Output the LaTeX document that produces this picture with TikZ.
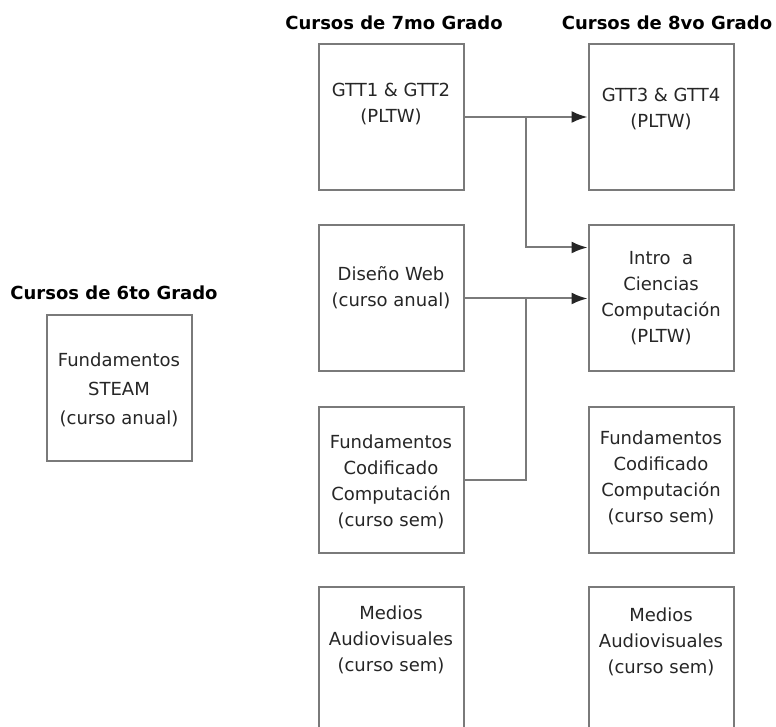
\documentclass[tikz,border=0pt]{standalone}
\usepackage{fontspec}
\setmainfont{DejaVu Sans}
\usetikzlibrary{arrows.meta,positioning}

\begin{document}
\begin{tikzpicture}[x=0.75pt, y=-0.75pt,
    box/.style={draw=black!52, line width=1.5pt, minimum width=108.75pt, minimum height=109.5pt, inner sep=0pt},
    txt/.style={align=center, inner sep=0pt, text=black!85, font=\fontsize{13.5}{19.5}\selectfont},
    head/.style={inner sep=0pt, text=black, font=\bfseries\fontsize{13.5}{16}\selectfont},
    link/.style={draw=black!52, line width=1.5pt},
    arrow/.style={link, -{Latex[length=12pt, width=9pt, color=black!85]}}]
            \clip (0,0) rectangle (776,727);
            \fill[white] (0,0) rectangle (776,727);

            % headings
            \node[head] (grade6) at (114,293) {Cursos de 6to Grado};
            \node[head] (grade7) at (394,23) {Cursos de 7mo Grado};
            \node[head] (grade8) at (667,23) {Cursos de 8vo Grado};

            % boxes
            \node[box] (steam) at (119,388.5) {};
            \node[box] (gtt12) at (391,117) {};
            \node[box] (web) at (391,298.5) {};
            \node[box] (code7) at (391,480.5) {};
            \node[box] (media7) at (391,660) {};
            \node[box] (gtt34) at (661,117) {};
            \node[box] (intro) at (661,298.5) {};
            \node[box] (code8) at (661,480.5) {};
            \node[box] (media8) at (661,660) {};

            % texts
            \node[txt, font=\fontsize{13.5}{21.5}\selectfont] (steamtxt) at (119,390) {Fundamentos\\STEAM\\(curso anual)};
            \node[txt] (gtt12txt) at (391,104) {GTT1 \& GTT2\\(PLTW)};
            \node[txt] (webtxt) at (391,288) {Diseño Web\\(curso anual)};
            \node[txt] (code7txt) at (391,482) {Fundamentos\\Codificado\\Computación\\(curso sem)};
            \node[txt] (media7txt) at (391,640) {Medios\\Audiovisuales\\(curso sem)};
            \node[txt] (gtt34txt) at (661,109) {GTT3 \& GTT4\\(PLTW)};
            \node[txt] (introtxt) at (661,298) {Intro~ a\\Ciencias\\Computación\\(PLTW)};
            \node[txt] (code8txt) at (661,478) {Fundamentos\\Codificado\\Computación\\(curso sem)};
            \node[txt] (media8txt) at (661,642) {Medios\\Audiovisuales\\(curso sem)};

            % connectors
            \coordinate (split1) at (526,117);
            \coordinate (split2) at (526,298.5);
            \draw[arrow] (gtt12) -- (gtt34);
            \draw[arrow] (split1) |- ([yshift=38.25pt]intro.west);
            \draw[arrow] (web) -- (intro);
            \draw[link] (code7.east) -| (split2);
        \end{tikzpicture}
\end{document}
